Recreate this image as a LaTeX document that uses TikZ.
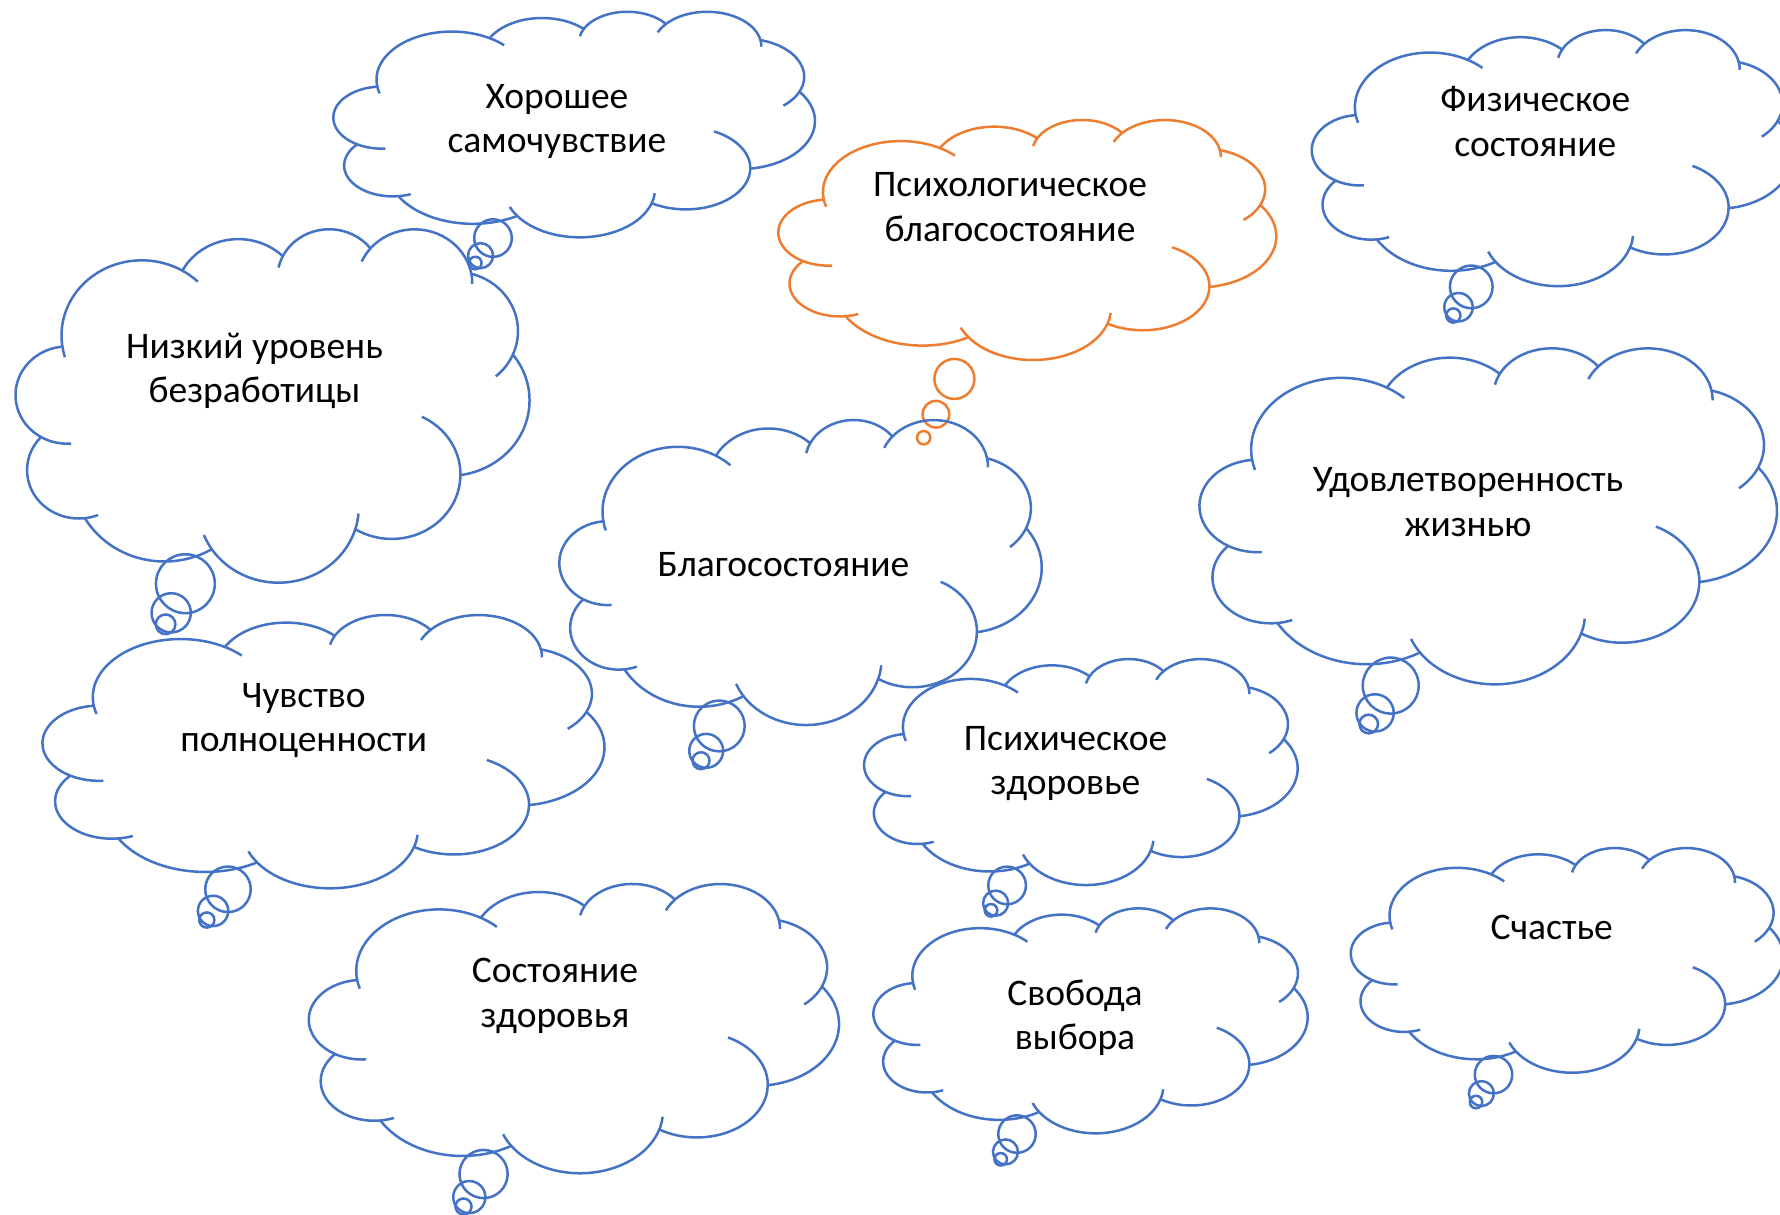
\documentclass[tikz,border=0pt]{standalone}
\usepackage{fontspec}
\setmainfont{Carlito}
\definecolor{cblue}{HTML}{4472C4}
\definecolor{corange}{HTML}{ED7D31}
% visual angle -> parametric angle (OOXML arcTo semantics)
\newcommand\defang[4]{%
  \pgfmathparse{atan2((#2)*sin(#4),(#3)*cos(#4))}%
  \let\tmpu\pgfmathresult
  \pgfmathparse{\tmpu+360*round(((#4)-\tmpu)/360)}%
  \expandafter\xdef\csname cang#1\endcsname{\pgfmathresult}%
}
\newcommand\ang[1]{\csname cang#1\endcsname}
\defang{s1}{67.53}{91.90}{-190.4875}\defang{e1}{67.53}{91.90}{-66.7070}
\defang{s2}{53.33}{72.67}{-144.1024}\defang{e2}{53.33}{72.67}{-54.1572}
\defang{s3}{43.65}{59.45}{-145.8079}\defang{e3}{43.65}{59.45}{-46.0849}
\defang{s4}{48.57}{65.95}{-130.9861}\defang{e4}{48.57}{65.95}{-13.7443}
\defang{s5}{53.33}{72.73}{-78.7089}\defang{e5}{53.33}{72.73}{30.3180}
\defang{s6}{67.75}{92.20}{-46.2673}\defang{e6}{67.75}{92.20}{84.0017}
\defang{s7}{57.85}{78.67}{0.6250}\defang{e7}{57.85}{78.67}{114.6584}
\defang{s8}{67.52}{92.15}{22.4516}\defang{e8}{67.52}{92.15}{137.6242}
\defang{s9}{77.20}{105.43}{66.2426}\defang{e9}{77.20}{105.43}{141.9537}
\defang{s10}{43.60}{59.18}{-274.9421}\defang{e10}{43.60}{59.18}{-128.2065}
\defang{s11}{43.45}{59.45}{-246.8285}\defang{e11}{43.45}{59.45}{-94.3097}
\defang{k11a}{67.53}{91.90}{169.5126}\defang{k11b}{67.53}{91.90}{157.6544}
\defang{k10a}{67.53}{91.90}{-66.7070}\defang{k10b}{67.53}{91.90}{-54.3876}
\defang{k9a}{43.65}{59.45}{-145.8079}\defang{k9b}{43.65}{59.45}{-163.4943}
\defang{k8a}{48.57}{65.95}{-130.9861}\defang{k8b}{48.57}{65.95}{-149.1815}
\defang{k7a}{48.57}{65.95}{-13.7443}\defang{k7b}{48.57}{65.95}{1.1146}
\defang{k6a}{53.33}{72.73}{30.3180}\defang{k6b}{53.33}{72.73}{58.0695}
\defang{k5a}{57.85}{78.67}{0.6250}\defang{k5b}{57.85}{78.67}{-70.2924}
\defang{k4a}{67.52}{92.15}{22.4516}\defang{k4b}{67.52}{92.15}{6.4533}
\defang{k3a}{67.52}{92.15}{137.6242}\defang{k3b}{67.52}{92.15}{151.7053}
\defang{k2a}{43.60}{59.18}{85.0579}\defang{k2b}{43.60}{59.18}{73.6105}
\defang{k1a}{43.45}{59.45}{113.1715}\defang{k1b}{43.45}{59.45}{86.7420}

\tikzset{
  cloudline/.style={draw=#1, line width=2.5pt, line join=round},
  bubble/.style={draw=#1, line width=2.5pt},
  lbl/.style={font=\fontsize{37.5}{44.4}\selectfont, anchor=base, inner sep=0pt, text=black}
}
\newcommand\twol[2]{\begin{tabular}[t]{@{}c@{}}#1\\#2\end{tabular}}

% cloud callout: x0 y0 w h tailx taily colour
\newcommand\cloudcall[7]{%
 \begin{scope}[shift={(#1,#2)}, x=1pt, y=1pt, xscale=#3/432, yscale=-#4/432]
  \coordinate (J0) at (39,143.70);
  \draw[cloudline=#7] (J0)
   arc[x radius=67.53pt, y radius=91.90pt, start angle=\ang{s1}, end angle=\ang{e1}] coordinate (J1)
   arc[x radius=53.33pt, y radius=72.67pt, start angle=\ang{s2}, end angle=\ang{e2}] coordinate (J2)
   arc[x radius=43.65pt, y radius=59.45pt, start angle=\ang{s3}, end angle=\ang{e3}] coordinate (J3)
   arc[x radius=48.57pt, y radius=65.95pt, start angle=\ang{s4}, end angle=\ang{e4}] coordinate (J4)
   arc[x radius=53.33pt, y radius=72.73pt, start angle=\ang{s5}, end angle=\ang{e5}] coordinate (J5)
   arc[x radius=67.75pt, y radius=92.20pt, start angle=\ang{s6}, end angle=\ang{e6}] coordinate (J6)
   arc[x radius=57.85pt, y radius=78.67pt, start angle=\ang{s7}, end angle=\ang{e7}] coordinate (J7)
   arc[x radius=67.52pt, y radius=92.15pt, start angle=\ang{s8}, end angle=\ang{e8}] coordinate (J8)
   arc[x radius=77.20pt, y radius=105.43pt, start angle=\ang{s9}, end angle=\ang{e9}] coordinate (J9)
   arc[x radius=43.60pt, y radius=59.18pt, start angle=\ang{s10}, end angle=\ang{e10}] coordinate (J10)
   arc[x radius=43.45pt, y radius=59.45pt, start angle=\ang{s11}, end angle=\ang{e11}] -- cycle;
  \draw[cloudline=#7]
   (J0) arc[x radius=67.53pt, y radius=91.90pt, start angle=\ang{k11a}, end angle=\ang{k11b}]
   (J1) arc[x radius=67.53pt, y radius=91.90pt, start angle=\ang{k10a}, end angle=\ang{k10b}]
   (J2) arc[x radius=43.65pt, y radius=59.45pt, start angle=\ang{k9a}, end angle=\ang{k9b}]
   (J3) arc[x radius=48.57pt, y radius=65.95pt, start angle=\ang{k8a}, end angle=\ang{k8b}]
   (J4) arc[x radius=48.57pt, y radius=65.95pt, start angle=\ang{k7a}, end angle=\ang{k7b}]
   (J5) arc[x radius=53.33pt, y radius=72.73pt, start angle=\ang{k6a}, end angle=\ang{k6b}]
   (J6) arc[x radius=57.85pt, y radius=78.67pt, start angle=\ang{k5a}, end angle=\ang{k5b}]
   (J7) arc[x radius=67.52pt, y radius=92.15pt, start angle=\ang{k4a}, end angle=\ang{k4b}]
   (J8) arc[x radius=67.52pt, y radius=92.15pt, start angle=\ang{k3a}, end angle=\ang{k3b}]
   (J9) arc[x radius=43.60pt, y radius=59.18pt, start angle=\ang{k2a}, end angle=\ang{k2b}]
   (J10) arc[x radius=43.45pt, y radius=59.45pt, start angle=\ang{k1a}, end angle=\ang{k1b}];
 \end{scope}
 \pgfmathsetmacro\bhw{#3/2}\pgfmathsetmacro\bhh{#4/2}%
 \pgfmathsetmacro\bdx{#5-#1-\bhw}\pgfmathsetmacro\bdy{#6-#2-\bhh}%
 \pgfmathsetmacro\bphi{atan2(\bdy,\bdx)}%
 \pgfmathsetmacro\bht{\bhh*cos(\bphi)}\pgfmathsetmacro\bwt{\bhw*sin(\bphi)}%
 \pgfmathsetmacro\bpsi{atan2(\bwt,\bht)}%
 \pgfmathsetmacro\bgx{#1+\bhw+\bhw*cos(\bpsi)-#5}%
 \pgfmathsetmacro\bgy{#2+\bhh+\bhh*sin(\bpsi)-#6}%
 \pgfmathsetmacro\bgl{100*sqrt((\bgx/100)^2+(\bgy/100)^2)}%
 \pgfmathsetmacro\bss{min(#3,#4)}%
 \pgfmathsetmacro\bgel{(\bgl-\bss*0.305556)/3}%
 \pgfmathsetmacro\bmid{(\bgel+\bss/12)/\bgl}%
 \pgfmathsetmacro\blrg{(\bss*0.222222+2*\bgel)/\bgl}%
 \pgfmathsetmacro\brs{\bss/36}\pgfmathsetmacro\brm{\bss/18}\pgfmathsetmacro\brl{\bss/12}%
 \draw[bubble=#7] (#5,#6) circle[radius=\brs*1pt];
 \draw[bubble=#7] ({#5+\bmid*\bgx},{#6+\bmid*\bgy}) circle[radius=\brm*1pt];
 \draw[bubble=#7] ({#5+\blrg*\bgx},{#6+\blrg*\bgy}) circle[radius=\brl*1pt];
}

\begin{document}
\begin{tikzpicture}[x=1pt,y=-1pt]
\useasboundingbox (0,0) rectangle (1780,1215);
\fill[white] (0,0) rectangle (1780,1215);
\clip (0,0) rectangle (1780,1215);

\cloudcall{333.7}{11.0}{481.1}{225.5}{475.3}{263.0}{cblue}
\cloudcall{778.7}{119.2}{497.4}{239.9}{923.7}{437.7}{corange}
\cloudcall{1312.1}{29.2}{481.0}{256.0}{1453.3}{315.5}{cblue}
\cloudcall{15.9}{228.1}{513.4}{353.3}{165.6}{624.3}{cblue}
\cloudcall{559.7}{419.0}{481.8}{304.9}{701.0}{760.7}{cblue}
\cloudcall{1199.9}{347.2}{576.8}{335.9}{1368.7}{724.0}{cblue}
\cloudcall{42.9}{614.1}{561.4}{273.2}{206.8}{920.0}{cblue}
\cloudcall{864.4}{658.3}{433.1}{225.9}{991.0}{910.3}{cblue}
\cloudcall{1351.1}{847.3}{432.0}{224.6}{1476.0}{1102.0}{cblue}
\cloudcall{309.2}{883.0}{529.6}{289.2}{463.5}{1206.5}{cblue}
\cloudcall{873.7}{907.6}{433.8}{224.9}{1000.7}{1159.3}{cblue}

\node[lbl] (t1) at (557,108.3) {\twol{Хорошее}{самочувствие}};
\node[lbl] (t2) at (1010,196.7) {\twol{Психологическое}{благосостояние}};
\node[lbl] (t3) at (1535.3,111.7) {\twol{Физическое}{состояние}};
\node[lbl] (t4) at (254.5,358.3) {\twol{Низкий уровень}{безработицы}};
\node[lbl] (t5) at (783.5,576) {Благосостояние};
\node[lbl] (t6) at (1468,491.7) {\twol{Удовлетворенность}{жизнью}};
\node[lbl] (t7) at (303.6,707.3) {\twol{Чувство}{полноценности}};
\node[lbl] (t8) at (1065.5,750) {\twol{Психическое}{здоровье}};
\node[lbl] (t9) at (1551.7,939) {Счастье};
\node[lbl] (t10) at (555,982.7) {\twol{Состояние}{здоровья}};
\node[lbl] (t11) at (1075,1005) {\twol{Свобода}{выбора}};
\end{tikzpicture}
\end{document}
